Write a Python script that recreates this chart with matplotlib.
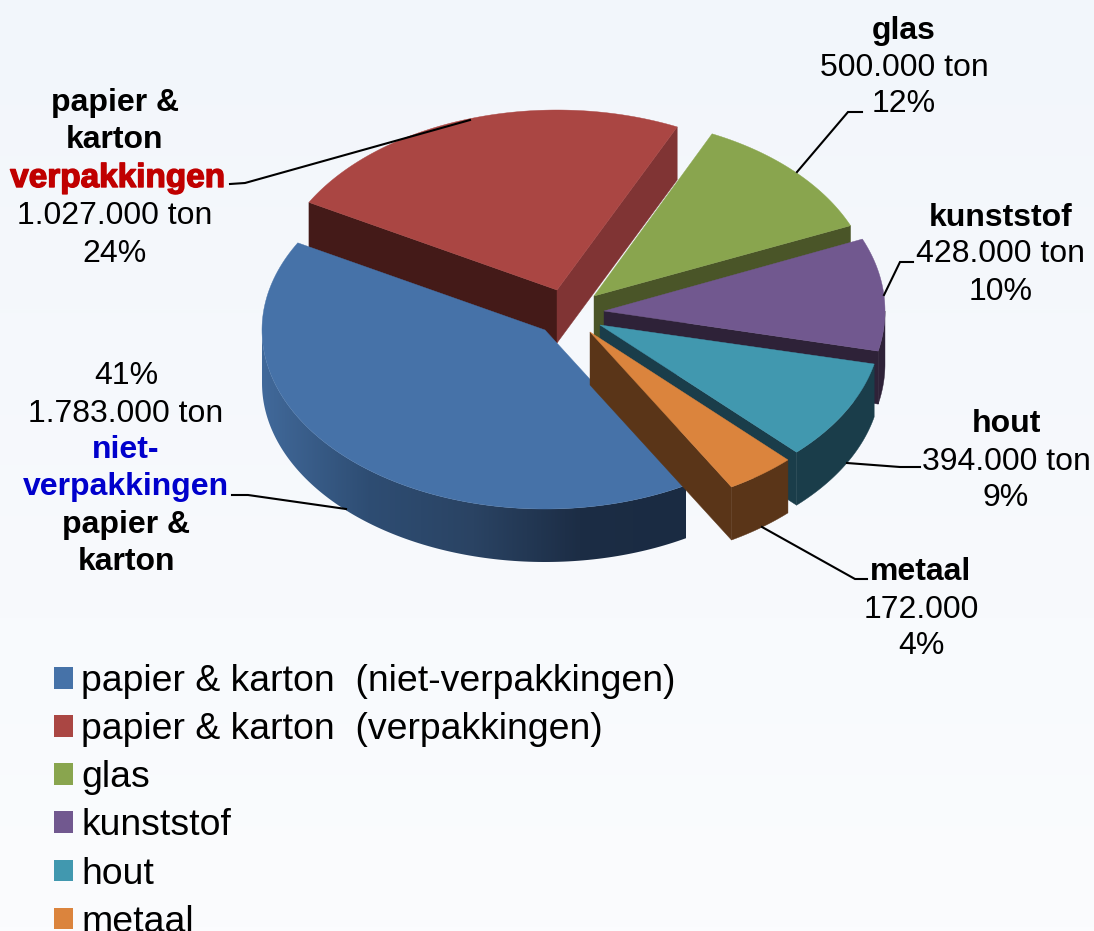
import numpy as np
import matplotlib
matplotlib.use('Agg')
import matplotlib.pyplot as plt
import matplotlib.patheffects as pe
from matplotlib.colors import LinearSegmentedColormap
from matplotlib.patches import Patch, Polygon

plt.rcParams['font.family'] = ['Liberation Sans', 'DejaVu Sans']

# data
categories = ['papier & karton  (niet-verpakkingen)', 'papier & karton  (verpakkingen)',
              'glas', 'kunststof', 'hout', 'metaal']
tons = [1783000, 1027000, 500000, 428000, 394000, 172000]

label_lines = [
    ['41%', '1.783.000 ton', 'niet-', 'verpakkingen', 'papier &', 'karton'],
    ['papier &', 'karton', 'verpakkingen', '1.027.000 ton', '24%'],
    ['glas', '500.000 ton', '12%'],
    ['kunststof', '428.000 ton', '10%'],
    ['hout', '394.000 ton', '9%'],
    ['metaal', '172.000', '4%'],
]
label_weights = [
    ['normal', 'normal', 'bold', 'bold', 'bold', 'bold'],
    ['bold', 'bold', 'heavy', 'normal', 'normal'],
    ['bold', 'normal', 'normal'],
    ['bold', 'normal', 'normal'],
    ['bold', 'normal', 'normal'],
    ['bold', 'normal', 'normal'],
]
label_cx = [126, 115, 904, 1001, 1006, 921]
label_y = [
    [373, 411, 447, 484, 522, 558],
    [99, 136, 175, 213, 250],
    [28, 65, 101],
    [214, 251, 288],
    [421, 458, 494],
    [569, 606, 643],
]

# styling of the exploded slices, in pixels of the picture
top_colors = ['#4672A8', '#AA4643', '#89A54E', '#71588F', '#4198AF', '#DB843D']
side_colors = ['#1B2D45', '#441A18', '#4A5528', '#2E2238', '#1A3D4A', '#5A3518']
end_colors = ['#1B2D45', '#803434', '#4A5528', '#2E2238', '#1A3D4A', '#5A3518']
tip_x = [545, 557, 594, 604, 600, 590]
tip_y = [330, 290, 296, 311, 325, 332]
rad_x = [283, 284, 279, 281, 281, 283]
rad_y = [179, 180, 179, 183, 178, 179]
depth = 53
draw_order = [1, 2, 3, 4, 0, 5]

leaders = [
    ([232, 248, 346], [495, 495, 509]),
    ([230, 245, 470], [184, 183, 120]),
    ([862, 848, 797], [112, 112, 172]),
    ([913, 900, 884], [262, 262, 295]),
    ([920, 900, 847], [467, 467, 463]),
    ([867, 855, 762], [579, 579, 527]),
]


def arc(i, a0, a1):
    t = np.radians(np.linspace(a0, a1, 120))
    return tip_x[i] + rad_x[i] * np.sin(t), tip_y[i] - rad_y[i] * np.cos(t)


fig = plt.figure(figsize=(10.94, 9.31), dpi=100)
ax = fig.add_axes([0, 0, 1, 1])

bg = LinearSegmentedColormap.from_list('bg', ['#F2F6FB', '#FBFCFE'])
ax.imshow(np.linspace(0, 1, 256).reshape(-1, 1), cmap=bg, aspect='auto',
          extent=[0, 1094, 931, 0], zorder=0)

shares = np.array(tons) / sum(tons) * 360
starts = 150 + np.concatenate([[0], np.cumsum(shares)[:-1]])
starts = np.where(starts >= 360, starts - 360, starts)
ends = starts + shares

z = 2
for i in draw_order:
    a0, a1 = starts[i], ends[i]

    # radial walls that face the viewer
    for a, col, show in [(a0, side_colors[i], np.sin(np.radians(a0)) < 0),
                         (a1, end_colors[i], np.sin(np.radians(a1)) > 0)]:
        if show:
            x, y = arc(i, a, a)
            wall = [(tip_x[i], tip_y[i]), (x[0], y[0]), (x[0], y[0] + depth),
                    (tip_x[i], tip_y[i] + depth)]
            ax.add_patch(Polygon(wall, fc=col, ec=col, lw=0.3, zorder=z))

    # outer wall, only the lower half of the ellipse shows
    lo, hi = max(a0, 90), min(a1, 270)
    if hi > lo:
        x, y = arc(i, lo, hi)
        pts = np.vstack([np.c_[x, y], np.c_[x[::-1], y[::-1] + depth]])
        if i == 0:
            shade = LinearSegmentedColormap.from_list(
                'wall', ['#41699A', '#2E4D73', '#2A4363', '#1C2D45', '#1A2B42'])
            clip = Polygon(pts, fc='none', ec='none', zorder=z, transform=ax.transData)
            ax.add_patch(clip)
            im = ax.imshow(np.linspace(0, 1, 256).reshape(1, -1), cmap=shade, aspect='auto',
                           extent=[262, 686, 931, 0], zorder=z)
            im.set_clip_path(clip)
        else:
            ax.add_patch(Polygon(pts, fc=side_colors[i], ec=side_colors[i], lw=0.3, zorder=z))

    # top face
    x, y = arc(i, a0, a1)
    face = np.vstack([[tip_x[i], tip_y[i]], np.c_[x, y]])
    ax.add_patch(Polygon(face, fc=top_colors[i], ec=top_colors[i], lw=0.3, zorder=z + 0.5))
    z += 1

for lx, ly in leaders:
    ax.plot(lx, ly, color='black', lw=1.5, zorder=20, solid_joinstyle='miter')

for i in range(len(tons)):
    for line, weight, yy in zip(label_lines[i], label_weights[i], label_y[i]):
        col = 'black'
        size = 23
        fx = None
        if line == 'verpakkingen' or line == 'niet-':
            col = '#0000CC' if i == 0 else '#C00000'
        if weight == 'heavy':
            size = 24
            weight = 'bold'
            fx = [pe.withStroke(linewidth=1.0, foreground=col)]
        ax.text(label_cx[i] + (3 if fx else 0), yy, line, color=col, fontsize=size, fontweight=weight,
                ha='center', va='center_baseline', zorder=21, path_effects=fx)

handles = [Patch(fc=c, ec=c, lw=0) for c in top_colors]
ax.legend(handles, categories, loc='upper left', bbox_to_anchor=(54 / 1094, 1 - 664 / 931),
          bbox_transform=ax.transAxes, frameon=False, fontsize=26.9, borderpad=0, borderaxespad=0,
          handlelength=0.51, handleheight=0.51, handletextpad=0.22, labelspacing=0.352)

ax.set_xlim(0, 1094)
ax.set_ylim(931, 0)
ax.axis('off')

fig.savefig('out.png', dpi=100)
